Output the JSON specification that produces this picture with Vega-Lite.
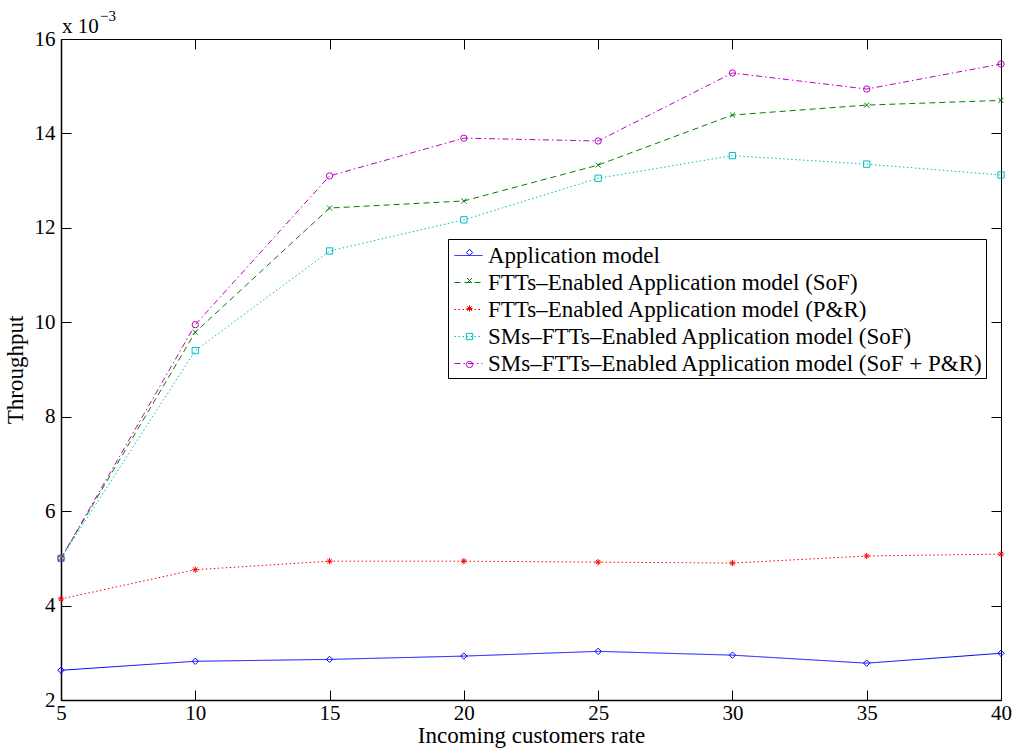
{
  "$schema": "https://vega.github.io/schema/vega-lite/v6.json",
  "width": 940,
  "height": 661,
  "autosize": "none",
  "padding": {"left": 61, "top": 39, "right": 17, "bottom": 51},
  "background": "white",
  "config": {
    "font": "Liberation Serif",
    "view": {"stroke": "#000000", "strokeWidth": 1},
    "axis": {"grid": false, "domainColor": "#000000", "domainWidth": 1.5, "tickColor": "#000000", "tickWidth": 1, "tickSize": -10, "labelColor": "#000000", "labelFont": "Liberation Serif", "labelFontSize": 21, "titleFont": "Liberation Serif", "titleFontSize": 23, "titleFontWeight": "normal", "titleColor": "#000000", "labelFlush": false, "labelOverlap": false}
  },
  "data": {"values": [
    {"series": "Application model", "rate": 5, "throughput": 2.63},
    {"series": "Application model", "rate": 10, "throughput": 2.82},
    {"series": "Application model", "rate": 15, "throughput": 2.86},
    {"series": "Application model", "rate": 20, "throughput": 2.93},
    {"series": "Application model", "rate": 25, "throughput": 3.03},
    {"series": "Application model", "rate": 30, "throughput": 2.95},
    {"series": "Application model", "rate": 35, "throughput": 2.78},
    {"series": "Application model", "rate": 40, "throughput": 2.99},
    {"series": "FTTs–Enabled Application model (SoF)", "rate": 5, "throughput": 5.0},
    {"series": "FTTs–Enabled Application model (SoF)", "rate": 10, "throughput": 9.79},
    {"series": "FTTs–Enabled Application model (SoF)", "rate": 15, "throughput": 12.42},
    {"series": "FTTs–Enabled Application model (SoF)", "rate": 20, "throughput": 12.57},
    {"series": "FTTs–Enabled Application model (SoF)", "rate": 25, "throughput": 13.33},
    {"series": "FTTs–Enabled Application model (SoF)", "rate": 30, "throughput": 14.39},
    {"series": "FTTs–Enabled Application model (SoF)", "rate": 35, "throughput": 14.6},
    {"series": "FTTs–Enabled Application model (SoF)", "rate": 40, "throughput": 14.7},
    {"series": "FTTs–Enabled Application model (P&R)", "rate": 5, "throughput": 4.14},
    {"series": "FTTs–Enabled Application model (P&R)", "rate": 10, "throughput": 4.76},
    {"series": "FTTs–Enabled Application model (P&R)", "rate": 15, "throughput": 4.94},
    {"series": "FTTs–Enabled Application model (P&R)", "rate": 20, "throughput": 4.94},
    {"series": "FTTs–Enabled Application model (P&R)", "rate": 25, "throughput": 4.92},
    {"series": "FTTs–Enabled Application model (P&R)", "rate": 30, "throughput": 4.9},
    {"series": "FTTs–Enabled Application model (P&R)", "rate": 35, "throughput": 5.05},
    {"series": "FTTs–Enabled Application model (P&R)", "rate": 40, "throughput": 5.09},
    {"series": "SMs–FTTs–Enabled Application model (SoF)", "rate": 5, "throughput": 5.0},
    {"series": "SMs–FTTs–Enabled Application model (SoF)", "rate": 10, "throughput": 9.4},
    {"series": "SMs–FTTs–Enabled Application model (SoF)", "rate": 15, "throughput": 11.51},
    {"series": "SMs–FTTs–Enabled Application model (SoF)", "rate": 20, "throughput": 12.17},
    {"series": "SMs–FTTs–Enabled Application model (SoF)", "rate": 25, "throughput": 13.05},
    {"series": "SMs–FTTs–Enabled Application model (SoF)", "rate": 30, "throughput": 13.53},
    {"series": "SMs–FTTs–Enabled Application model (SoF)", "rate": 35, "throughput": 13.35},
    {"series": "SMs–FTTs–Enabled Application model (SoF)", "rate": 40, "throughput": 13.12},
    {"series": "SMs–FTTs–Enabled Application model (SoF + P&R)", "rate": 5, "throughput": 5.0},
    {"series": "SMs–FTTs–Enabled Application model (SoF + P&R)", "rate": 10, "throughput": 9.95},
    {"series": "SMs–FTTs–Enabled Application model (SoF + P&R)", "rate": 15, "throughput": 13.1},
    {"series": "SMs–FTTs–Enabled Application model (SoF + P&R)", "rate": 20, "throughput": 13.9},
    {"series": "SMs–FTTs–Enabled Application model (SoF + P&R)", "rate": 25, "throughput": 13.84},
    {"series": "SMs–FTTs–Enabled Application model (SoF + P&R)", "rate": 30, "throughput": 15.28},
    {"series": "SMs–FTTs–Enabled Application model (SoF + P&R)", "rate": 35, "throughput": 14.94},
    {"series": "SMs–FTTs–Enabled Application model (SoF + P&R)", "rate": 40, "throughput": 15.47}
  ]},
  "layer": [
    {
      "layer": [
        {
          "mark": {"type": "line", "strokeWidth": 1, "clip": false},
          "encoding": {
            "x": {"field": "rate", "type": "quantitative", "scale": {"domain": [5, 40], "nice": false, "zero": false}, "axis": {"values": [5, 10, 15, 20, 25, 30, 35, 40], "title": "Incoming customers rate", "labelPadding": 12, "titlePadding": 1, "orient": "bottom"}},
            "y": {"field": "throughput", "type": "quantitative", "scale": {"domain": [2, 16], "nice": false, "zero": false}, "axis": {"values": [2, 4, 6, 8, 10, 12, 14, 16], "title": "Throughput", "labelPadding": 16, "titlePadding": 7, "orient": "left"}},
            "color": {
              "field": "series", "type": "nominal",
              "scale": {
                "domain": ["Application model", "FTTs–Enabled Application model (SoF)", "FTTs–Enabled Application model (P&R)", "SMs–FTTs–Enabled Application model (SoF)", "SMs–FTTs–Enabled Application model (SoF + P&R)"],
                "range": ["#0000ff", "#008000", "#ff0000", "#00bfbf", "#bf00bf"]
              },
              "legend": {
                "title": null, "orient": "none", "legendX": 387, "legendY": 200,
                "strokeColor": "#000000", "fillColor": "#ffffff", "padding": 2, "symbolOffset": 4,
                "labelFont": "Liberation Serif", "labelFontSize": 23, "labelColor": "#000000", "labelLimit": 0,
                "symbolType": "stroke", "symbolSize": 784, "symbolStrokeWidth": 1, "labelOffset": 5, "rowPadding": 0, "zindex": 0
              }
            },
            "strokeDash": {
              "field": "series", "type": "nominal",
              "scale": {
                "domain": ["Application model", "FTTs–Enabled Application model (SoF)", "FTTs–Enabled Application model (P&R)", "SMs–FTTs–Enabled Application model (SoF)", "SMs–FTTs–Enabled Application model (SoF + P&R)"],
                "range": [[1, 0], [6, 4], [1.5, 2.5], [1.5, 2.5], [6, 3, 1.5, 3]]
              }
            }
          }
        },
        {
          "mark": {"type": "point", "filled": false, "strokeWidth": 1, "size": 40, "opacity": 1, "clip": false},
          "encoding": {
            "x": {"field": "rate", "type": "quantitative"},
            "y": {"field": "throughput", "type": "quantitative"},
            "stroke": {
              "field": "series", "type": "nominal",
              "scale": {
                "domain": ["Application model", "FTTs–Enabled Application model (P&R)", "FTTs–Enabled Application model (SoF)", "SMs–FTTs–Enabled Application model (SoF + P&R)", "SMs–FTTs–Enabled Application model (SoF)"],
                "range": ["#0000ff", "#ff0000", "#008000", "#bf00bf", "#00bfbf"]
              },
              "legend": {
                "title": null, "orient": "none", "legendX": 387, "legendY": 200,
                "values": ["Application model", "FTTs–Enabled Application model (SoF)", "FTTs–Enabled Application model (P&R)", "SMs–FTTs–Enabled Application model (SoF)", "SMs–FTTs–Enabled Application model (SoF + P&R)"],
                "labelExpr": "''",
                "padding": 2, "symbolOffset": 8,
                "labelFont": "Liberation Serif", "labelFontSize": 23, "labelColor": "transparent", "labelLimit": 0,
                "symbolSize": 40, "symbolStrokeWidth": 1, "labelOffset": 5, "rowPadding": 4, "zindex": 1
              }
            },
            "shape": {
              "field": "series", "type": "nominal",
              "scale": {
                "domain": ["Application model", "FTTs–Enabled Application model (P&R)", "FTTs–Enabled Application model (SoF)", "SMs–FTTs–Enabled Application model (SoF + P&R)", "SMs–FTTs–Enabled Application model (SoF)"],
                "range": ["diamond", "M-1,0L1,0M0,-1L0,1M-0.7,-0.7L0.7,0.7M-0.7,0.7L0.7,-0.7", "M-0.8,-0.8L0.8,0.8M-0.8,0.8L0.8,-0.8", "circle", "square"]
              }
            }
          }
        },
        {
          "data": {"values": [{"t": "x 10"}]},
          "mark": {"type": "text", "align": "left", "baseline": "alphabetic", "dx": 1, "dy": -6, "fontSize": 21, "font": "Liberation Serif", "color": "#000000"},
          "encoding": {"x": {"datum": 5}, "y": {"datum": 16}, "text": {"field": "t"}}
        },
        {
          "data": {"values": [{"t": "−3"}]},
          "mark": {"type": "text", "align": "left", "baseline": "alphabetic", "dx": 39, "dy": -18, "fontSize": 15, "font": "Liberation Serif", "color": "#000000"},
          "encoding": {"x": {"datum": 5}, "y": {"datum": 16}, "text": {"field": "t"}}
        }
      ]
    },
    {
      "mark": {"type": "point", "opacity": 0},
      "encoding": {
        "x": {"field": "rate", "type": "quantitative", "axis": {"orient": "top", "values": [5, 10, 15, 20, 25, 30, 35, 40], "labels": false, "domain": false, "title": null}},
        "y": {"field": "throughput", "type": "quantitative", "axis": {"orient": "right", "values": [2, 4, 6, 8, 10, 12, 14, 16], "labels": false, "domain": false, "title": null}}
      }
    }
  ],
  "resolve": {"axis": {"x": "independent", "y": "independent"}}
}
